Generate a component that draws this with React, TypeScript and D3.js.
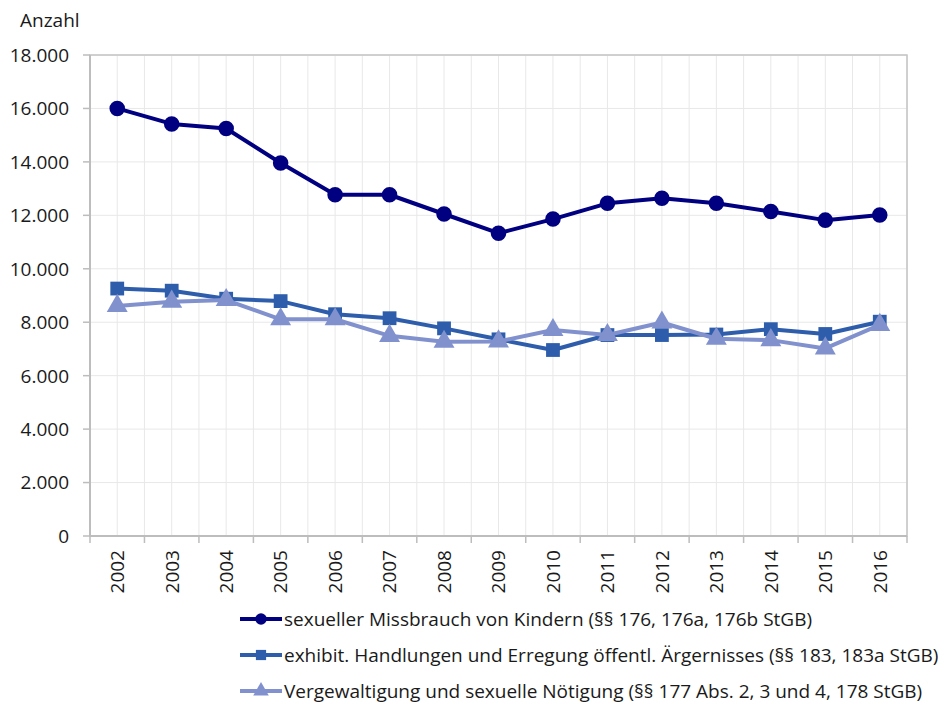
import React from 'react';
import { scaleBand, scaleLinear, line, symbol, symbolCircle, symbolSquare, symbolTriangle, range } from 'd3';

const years = ['2002', '2003', '2004', '2005', '2006', '2007', '2008', '2009', '2010', '2011', '2012', '2013', '2014', '2015', '2016'];

const missbrauch = [16000, 15420, 15250, 13960, 12770, 12770, 12050, 11330, 11860, 12450, 12640, 12450, 12140, 11820, 12010];
const exhibit = [9260, 9180, 8880, 8790, 8300, 8150, 7770, 7360, 6960, 7520, 7520, 7540, 7740, 7560, 8020];
const vergewaltigung = [8610, 8770, 8830, 8110, 8110, 7490, 7270, 7280, 7710, 7520, 7990, 7380, 7330, 7020, 7900];

const yTicks = [0, 2000, 4000, 6000, 8000, 10000, 12000, 14000, 16000, 18000];

const seriesNames = [
  'sexueller Missbrauch von Kindern (§§ 176, 176a, 176b StGB)',
  'exhibit. Handlungen und Erregung öffentl. Ärgernisses (§§ 183, 183a StGB)',
  'Vergewaltigung und sexuelle Nötigung (§§ 177 Abs. 2, 3 und 4, 178 StGB)',
];

const series = [
  { name: seriesNames[0], values: missbrauch, color: '#000080', shape: symbolCircle, size: 190 },
  { name: seriesNames[1], values: exhibit, color: '#2d5dab', shape: symbolSquare, size: 190 },
  { name: seriesNames[2], values: vergewaltigung, color: '#8191cd', shape: symbolTriangle, size: 190 },
];

const fmt = (v: number) => (v === 0 ? '0' : (v / 1000).toFixed(3));

export default function App() {
  const width = 952;
  const height = 706;
  const left = 90;
  const right = 907;
  const top = 55;
  const bottom = 536;

  const x = scaleBand<string>().domain(years).range([left, right]).padding(0);
  const y = scaleLinear().domain([0, 18000]).range([bottom, top]);
  const bw = x.bandwidth();
  const cx = (yr: string) => (x(yr) as number) + bw / 2;

  const font = "'Open Sans', sans-serif";
  const boundaries = range(years.length + 1).map((i) => left + i * bw);

  return (
    <svg width={width} height={height} style={{ position: 'absolute', left: 0, top: 0 }} fontFamily={font}>
      <rect width={width} height={height} fill="#fff" />
      <text x={20} y={27} fontSize={19} fill="#1a1a1a">Anzahl</text>

      {/* grid */}
      {yTicks.map((t) => (
        <line key={'h' + t} x1={left} x2={right} y1={y(t)} y2={y(t)} stroke="#e8e8e8" strokeWidth={1} />
      ))}
      {boundaries.map((b) => (
        <line key={'vb' + b} x1={b} x2={b} y1={top} y2={bottom} stroke="#e8e8e8" strokeWidth={1} />
      ))}
      {years.map((yr) => (
        <line key={'vc' + yr} x1={cx(yr)} x2={cx(yr)} y1={top} y2={bottom} stroke="#e8e8e8" strokeWidth={1} />
      ))}

      {/* frame */}
      <rect x={left} y={top} width={right - left} height={bottom - top} fill="none" stroke="#c4c4c4" strokeWidth={1.5} />
      <line x1={left} x2={left} y1={top} y2={bottom} stroke="#bdbdbd" strokeWidth={2} />
      <line x1={left} x2={right} y1={bottom} y2={bottom} stroke="#bdbdbd" strokeWidth={2} />

      {/* y axis */}
      {yTicks.map((t) => (
        <g key={'yt' + t}>
          <line x1={left - 7} x2={left} y1={y(t)} y2={y(t)} stroke="#bdbdbd" strokeWidth={1.5} />
          <text x={69} y={y(t)} dy="0.36em" textAnchor="end" fontSize={19} fill="#1a1a1a">{fmt(t)}</text>
        </g>
      ))}

      {/* x axis */}
      {boundaries.map((b) => (
        <line key={'xt' + b} x1={b} x2={b} y1={bottom} y2={bottom + 7} stroke="#bdbdbd" strokeWidth={1.5} />
      ))}
      {years.map((yr) => (
        <text key={'xl' + yr} transform={`translate(${cx(yr)},550) rotate(-90)`} dy="0.36em" textAnchor="end" fontSize={19} fill="#1a1a1a">
          {yr}
        </text>
      ))}

      {/* series */}
      {series.map((s) => {
        const path = line<number>()
          .x((_, i) => cx(years[i]))
          .y((v) => y(v))(s.values);
        return (
          <g key={s.name}>
            <path d={path || ''} fill="none" stroke={s.color} strokeWidth={4} strokeLinejoin="round" />
            {s.values.map((v, i) => (
              <path key={i} transform={`translate(${cx(years[i])},${y(v)})`} d={symbol(s.shape, s.size)() || ''} fill={s.color} />
            ))}
          </g>
        );
      })}

      {/* legend */}
      {series.map((s, i) => {
        const ly = 619 + i * 36;
        return (
          <g key={'lg' + i}>
            <line x1={240} x2={282} y1={ly} y2={ly} stroke={s.color} strokeWidth={4} />
            <path transform={`translate(261,${ly})`} d={symbol(s.shape, s.size * 0.55)() || ''} fill={s.color} />
            <text x={284} y={ly} dy="0.36em" fontSize={19} fill="#1a1a1a">{s.name}</text>
          </g>
        );
      })}
    </svg>
  );
}
